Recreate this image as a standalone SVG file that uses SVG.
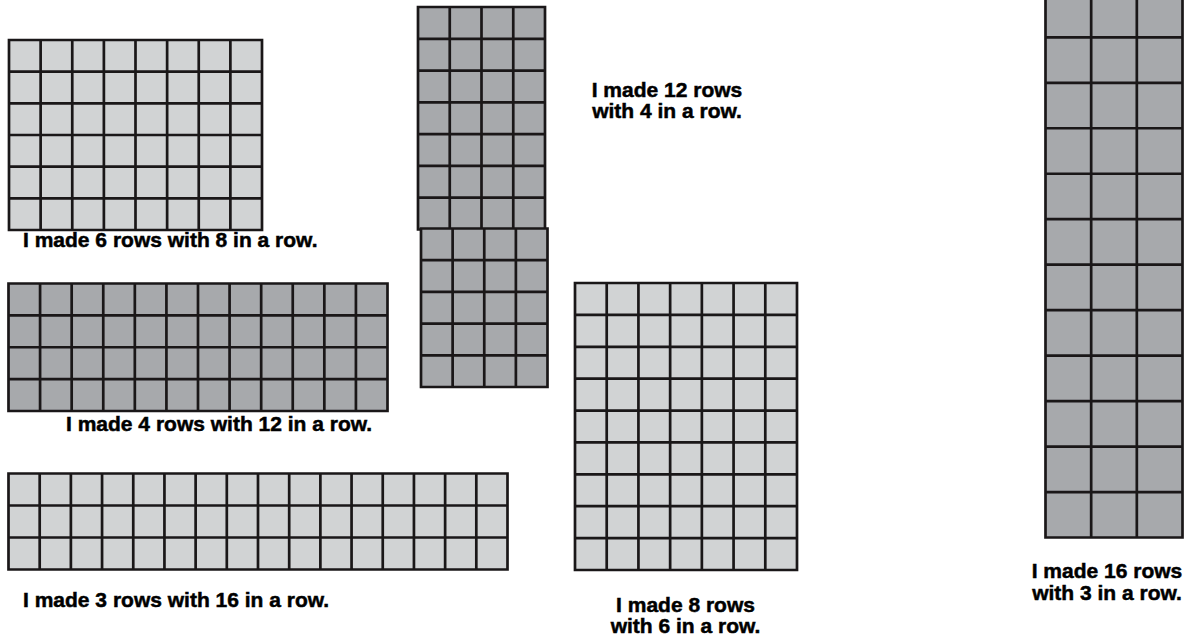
<svg xmlns="http://www.w3.org/2000/svg" width="1187" height="636" viewBox="0 0 1187 636">
<style>
.light{fill:#d1d3d4}
.dark{fill:#a7a9ac}
.ln{fill:none;stroke:#1a1718;stroke-width:2.7;stroke-linecap:square}
.lbl{font-family:"Liberation Sans",Arial,sans-serif;font-weight:bold;font-size:21px;fill:#000;stroke:#000;stroke-width:0.5}
.mid{text-anchor:middle}
</style>
<rect width="1187" height="636" fill="#fff"/>
<g id="grid-6x8">
<rect class="light" x="9" y="40" width="253" height="190"/>
<path class="ln" d="M9 40H262V230H9Z M40.63 40V230 M72.25 40V230 M103.88 40V230 M135.5 40V230 M167.13 40V230 M198.75 40V230 M230.38 40V230 M9 71.67H262 M9 103.33H262 M9 135H262 M9 166.67H262 M9 198.33H262"/>
</g>
<g id="grid-12x4-top">
<rect class="dark" x="418" y="7" width="127" height="222.5"/>
<path class="ln" d="M418 7H545V229.5H418Z M449.75 7V229.5 M481.5 7V229.5 M513.25 7V229.5 M418 38.79H545 M418 70.57H545 M418 102.36H545 M418 134.14H545 M418 165.93H545 M418 197.71H545"/>
</g>
<g id="grid-12x4-bottom">
<rect class="dark" x="421" y="228.5" width="126.5" height="158.5"/>
<path class="ln" d="M421 228.5H547.5V387H421Z M452.63 228.5V387 M484.25 228.5V387 M515.88 228.5V387 M421 260.2H547.5 M421 291.9H547.5 M421 323.6H547.5 M421 355.3H547.5"/>
</g>
<g id="grid-4x12">
<rect class="dark" x="8.5" y="283.5" width="379" height="127.5"/>
<path class="ln" d="M8.5 283.5H387.5V411H8.5Z M40.08 283.5V411 M71.67 283.5V411 M103.25 283.5V411 M134.83 283.5V411 M166.42 283.5V411 M198 283.5V411 M229.58 283.5V411 M261.17 283.5V411 M292.75 283.5V411 M324.33 283.5V411 M355.92 283.5V411 M8.5 315.38H387.5 M8.5 347.25H387.5 M8.5 379.13H387.5"/>
</g>
<g id="grid-3x16">
<rect class="light" x="8.5" y="473.5" width="499" height="96"/>
<path class="ln" d="M8.5 473.5H507.5V569.5H8.5Z M39.69 473.5V569.5 M70.88 473.5V569.5 M102.06 473.5V569.5 M133.25 473.5V569.5 M164.44 473.5V569.5 M195.63 473.5V569.5 M226.81 473.5V569.5 M258 473.5V569.5 M289.19 473.5V569.5 M320.38 473.5V569.5 M351.56 473.5V569.5 M382.75 473.5V569.5 M413.94 473.5V569.5 M445.13 473.5V569.5 M476.31 473.5V569.5 M8.5 505.5H507.5 M8.5 537.5H507.5"/>
</g>
<g id="grid-9x7">
<rect class="light" x="575" y="283" width="222" height="287"/>
<path class="ln" d="M575 283H797V570H575Z M606.71 283V570 M638.43 283V570 M670.14 283V570 M701.86 283V570 M733.57 283V570 M765.29 283V570 M575 314.89H797 M575 346.78H797 M575 378.67H797 M575 410.56H797 M575 442.44H797 M575 474.33H797 M575 506.22H797 M575 538.11H797"/>
</g>
<g id="grid-16x3">
<rect class="dark" x="1045.5" y="-190" width="137" height="727.5"/>
<path class="ln" d="M1045.5 -190H1182.5V537.5H1045.5Z M1091.17 -190V537.5 M1136.83 -190V537.5 M1045.5 492.03H1182.5 M1045.5 446.56H1182.5 M1045.5 401.09H1182.5 M1045.5 355.62H1182.5 M1045.5 310.15H1182.5 M1045.5 264.68H1182.5 M1045.5 219.21H1182.5 M1045.5 173.74H1182.5 M1045.5 128.27H1182.5 M1045.5 82.8H1182.5 M1045.5 37.33H1182.5 M1045.5 -8.14H1182.5 M1045.5 -53.61H1182.5 M1045.5 -99.08H1182.5 M1045.5 -144.55H1182.5"/>
</g>
<g id="labels">
<text class="lbl" x="23" y="247">I made 6 rows with 8 in a row.</text>
<text class="lbl mid" x="667" y="97">I made 12 rows</text>
<text class="lbl mid" x="667" y="118">with 4 in a row.</text>
<text class="lbl" x="66" y="431">I made 4 rows with 12 in a row.</text>
<text class="lbl" x="23" y="607">I made 3 rows with 16 in a row.</text>
<text class="lbl mid" x="685.5" y="612">I made 8 rows</text>
<text class="lbl mid" x="685.5" y="633">with 6 in a row.</text>
<text class="lbl mid" x="1107" y="578">I made 16 rows</text>
<text class="lbl mid" x="1107" y="600">with 3 in a row.</text>
</g>
<g id="connectors"/>
</svg>
